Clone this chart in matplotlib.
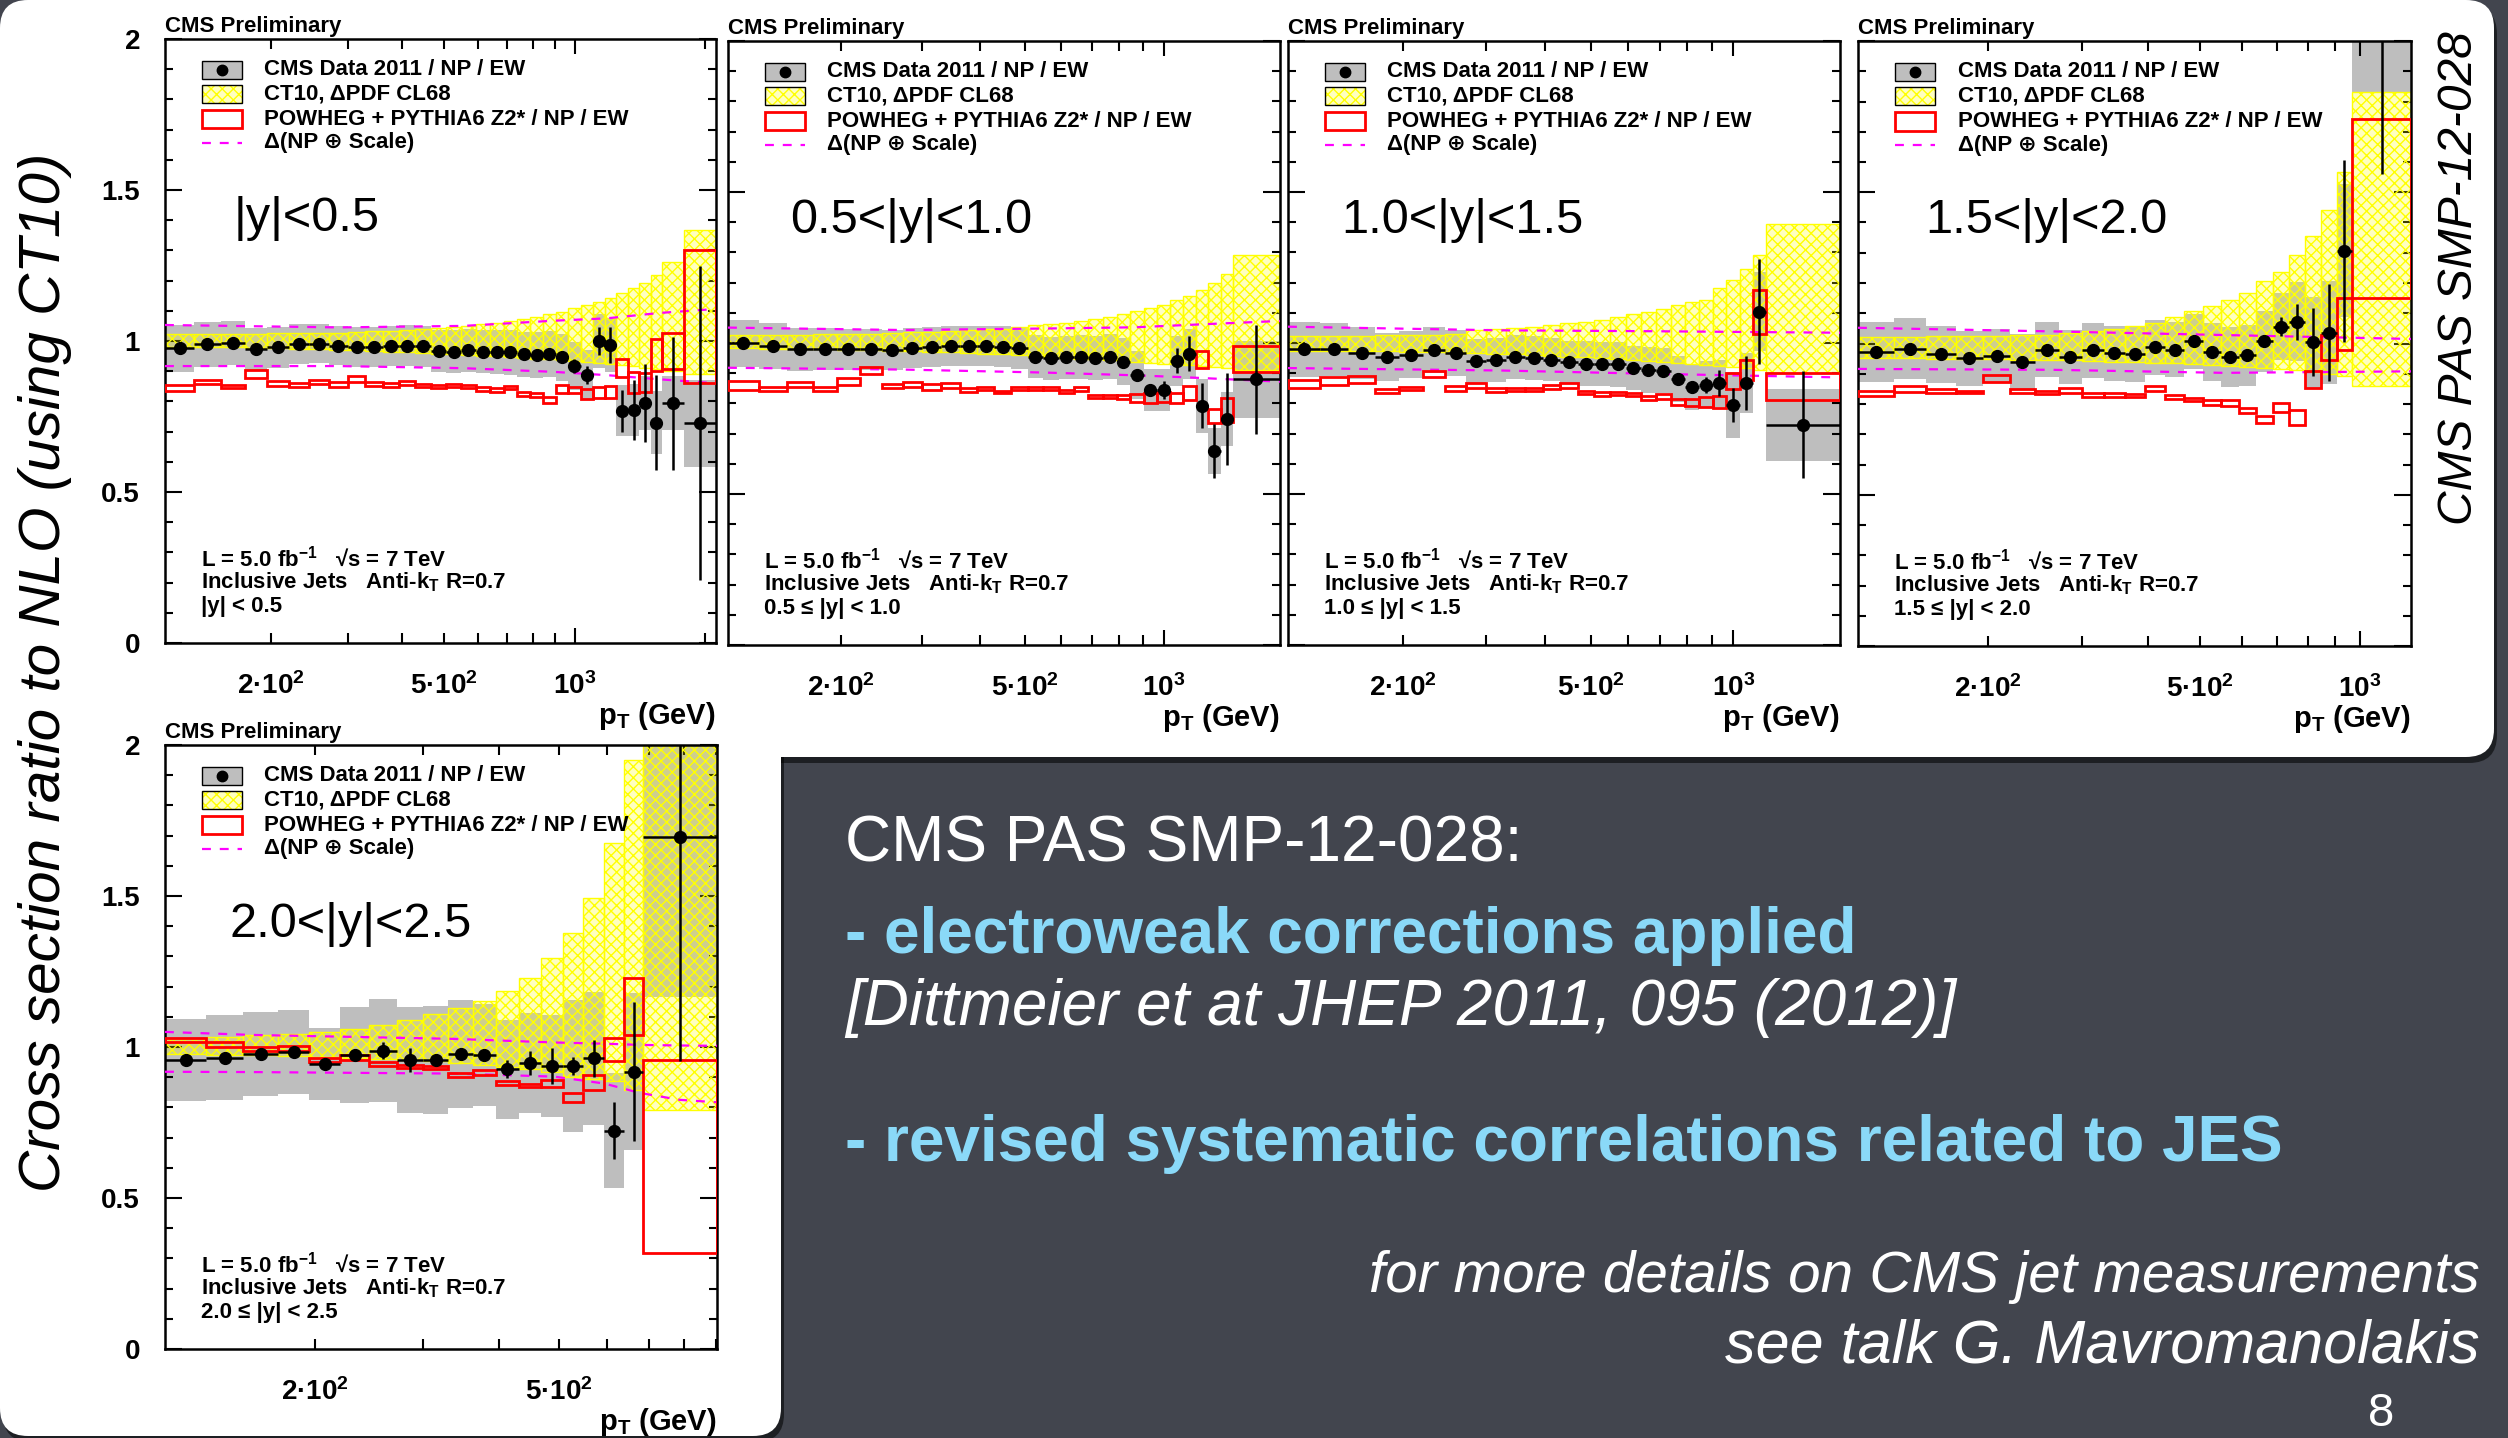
import numpy as np
import matplotlib
matplotlib.use('Agg')
import matplotlib.pyplot as plt
from matplotlib.patches import FancyBboxPatch, Rectangle
from matplotlib.ticker import FixedLocator, FuncFormatter
from matplotlib.transforms import IdentityTransform

plt.rcParams['font.family'] = ['Liberation Sans', 'DejaVu Sans']
plt.rcParams['font.weight'] = 'bold'
plt.rcParams['mathtext.fontset'] = 'custom'
plt.rcParams['mathtext.rm'] = 'Liberation Sans:bold'
plt.rcParams['mathtext.it'] = 'Liberation Sans:bold'
plt.rcParams['mathtext.bf'] = 'Liberation Sans:bold'
plt.rcParams['hatch.linewidth'] = 1.0

# ---- |y| < 0.5
edges1 = [114, 133, 153, 174, 196, 220, 245, 272, 300, 330, 362, 395, 430, 468, 507, 548, 592, 638,
          686, 737, 790, 846, 905, 967, 1032, 1101, 1172, 1248, 1327, 1410, 1497, 1588, 1784, 2116]
data1 = [0.976, 0.989, 0.994, 0.973, 0.980, 0.989, 0.991, 0.985, 0.980, 0.980,
         0.983, 0.985, 0.983, 0.967, 0.965, 0.969, 0.965, 0.963, 0.963, 0.956,
         0.954, 0.957, 0.946, 0.917, 0.887, 1.000, 0.986, 0.769, 0.771, 0.794,
         0.730, 0.794, 0.727]
stat1 = [0.003, 0.003, 0.003, 0.003, 0.003, 0.003, 0.003, 0.004, 0.004, 0.004,
         0.004, 0.005, 0.005, 0.005, 0.006, 0.006, 0.007, 0.008, 0.009, 0.010,
         0.011, 0.013, 0.016, 0.024, 0.031, 0.046, 0.060, 0.070, 0.100, 0.130,
         0.157, 0.220, 0.520]
sys1 = [0.077, 0.075, 0.072, 0.070, 0.068, 0.066, 0.065, 0.065, 0.065, 0.065,
        0.066, 0.067, 0.068, 0.069, 0.070, 0.071, 0.072, 0.073, 0.074, 0.075,
        0.076, 0.077, 0.078, 0.080, 0.082, 0.088, 0.090, 0.085, 0.085, 0.090,
        0.105, 0.090, 0.143]
pdf_hi1 = [1.023, 1.023, 1.024, 1.024, 1.025, 1.026, 1.027, 1.028, 1.030, 1.032,
           1.034, 1.036, 1.039, 1.042, 1.046, 1.050, 1.055, 1.060, 1.066, 1.072,
           1.080, 1.088, 1.097, 1.108, 1.119, 1.130, 1.141, 1.158, 1.174, 1.193,
           1.219, 1.263, 1.367]
pdf_lo1 = [0.981, 0.980, 0.979, 0.978, 0.977, 0.975, 0.973, 0.971, 0.969, 0.967,
           0.965, 0.962, 0.960, 0.958, 0.956, 0.954, 0.951, 0.949, 0.947, 0.945,
           0.942, 0.940, 0.937, 0.934, 0.931, 0.928, 0.925, 0.921, 0.917, 0.912,
           0.906, 0.900, 0.890]
pow_hi1 = [0.854, 0.871, 0.854, 0.904, 0.869, 0.860, 0.871, 0.863, 0.884, 0.863,
           0.860, 0.869, 0.858, 0.854, 0.858, 0.854, 0.847, 0.845, 0.852, 0.830,
           0.829, 0.816, 0.854, 0.849, 0.840, 0.847, 0.852, 0.940, 0.898, 0.895,
           1.007, 1.028, 1.301]
pow_lo1 = [0.835, 0.858, 0.843, 0.876, 0.852, 0.849, 0.858, 0.849, 0.865, 0.851,
           0.849, 0.854, 0.847, 0.845, 0.847, 0.843, 0.836, 0.832, 0.841, 0.819,
           0.816, 0.796, 0.829, 0.829, 0.807, 0.810, 0.810, 0.882, 0.827, 0.832,
           0.902, 0.906, 0.862]
np_pt1 = [114, 286, 555, 891, 1184, 1573, 2116]
np_up1 = [1.053, 1.045, 1.050, 1.067, 1.075, 1.093, 1.106]
np_dn1 = [0.917, 0.917, 0.910, 0.898, 0.887, 0.873, 0.860]

# ---- 0.5 < |y| < 1.0
edges2 = [114, 133, 153, 174, 196, 220, 245, 272, 300, 330, 362, 395, 430, 468, 507, 548, 592, 638,
          686, 737, 790, 846, 905, 967, 1032, 1101, 1172, 1248, 1327, 1410, 1784]
data2 = [0.999, 0.990, 0.979, 0.979, 0.979, 0.979, 0.977, 0.984, 0.988, 0.990,
         0.990, 0.990, 0.988, 0.984, 0.955, 0.949, 0.953, 0.953, 0.949, 0.955,
         0.938, 0.894, 0.844, 0.844, 0.941, 0.964, 0.792, 0.643, 0.748, 0.880]
stat2 = [0.003, 0.003, 0.003, 0.003, 0.003, 0.003, 0.004, 0.004, 0.004, 0.004,
         0.005, 0.005, 0.005, 0.006, 0.006, 0.007, 0.008, 0.009, 0.010, 0.011,
         0.012, 0.015, 0.020, 0.030, 0.041, 0.058, 0.074, 0.090, 0.153, 0.180]
sys2 = [0.077, 0.075, 0.072, 0.070, 0.068, 0.067, 0.066, 0.066, 0.066, 0.066,
        0.067, 0.067, 0.068, 0.069, 0.070, 0.070, 0.071, 0.072, 0.073, 0.075,
        0.077, 0.080, 0.070, 0.070, 0.083, 0.083, 0.090, 0.077, 0.090, 0.128]
pdf_hi2 = [1.026, 1.027, 1.028, 1.029, 1.030, 1.031, 1.033, 1.035, 1.037, 1.039,
           1.042, 1.045, 1.048, 1.052, 1.058, 1.063, 1.067, 1.074, 1.078, 1.085,
           1.096, 1.107, 1.115, 1.126, 1.142, 1.156, 1.175, 1.198, 1.227, 1.291]
pdf_lo2 = [0.982, 0.981, 0.980, 0.979, 0.978, 0.977, 0.975, 0.973, 0.971, 0.969,
           0.967, 0.965, 0.962, 0.959, 0.955, 0.952, 0.950, 0.948, 0.946, 0.944,
           0.941, 0.938, 0.935, 0.932, 0.929, 0.926, 0.923, 0.920, 0.916, 0.910]
pow_hi2 = [0.875, 0.855, 0.872, 0.855, 0.883, 0.922, 0.864, 0.872, 0.864, 0.866,
           0.850, 0.855, 0.842, 0.855, 0.855, 0.855, 0.844, 0.855, 0.828, 0.828,
           0.828, 0.830, 0.836, 0.839, 0.836, 0.859, 0.975, 0.781, 0.819, 0.990]
pow_lo2 = [0.844, 0.842, 0.853, 0.842, 0.861, 0.896, 0.850, 0.855, 0.844, 0.852,
           0.839, 0.844, 0.833, 0.844, 0.844, 0.844, 0.833, 0.841, 0.817, 0.817,
           0.814, 0.806, 0.800, 0.806, 0.800, 0.811, 0.916, 0.736, 0.740, 0.905]
np_pt2 = [114, 273, 556, 867, 1133, 1784]
np_up2 = [1.051, 1.043, 1.048, 1.052, 1.060, 1.073]
np_dn2 = [0.918, 0.912, 0.902, 0.893, 0.886, 0.872]

# ---- 1.0 < |y| < 1.5
edges3 = [114, 133, 153, 174, 196, 220, 245, 272, 300, 330, 362, 395, 430, 468, 507, 548, 592, 638,
          686, 737, 790, 846, 905, 967, 1032, 1101, 1172, 1684]
data3 = [0.979, 0.979, 0.967, 0.953, 0.961, 0.976, 0.967, 0.939, 0.945, 0.953,
         0.951, 0.945, 0.936, 0.932, 0.929, 0.929, 0.917, 0.911, 0.908, 0.881,
         0.854, 0.862, 0.867, 0.795, 0.867, 1.104, 0.729]
stat3 = [0.004, 0.004, 0.004, 0.004, 0.004, 0.004, 0.004, 0.005, 0.005, 0.005,
         0.005, 0.006, 0.006, 0.006, 0.007, 0.007, 0.008, 0.009, 0.012, 0.015,
         0.020, 0.027, 0.043, 0.056, 0.090, 0.175, 0.177]
sys3 = [0.090, 0.088, 0.085, 0.080, 0.078, 0.076, 0.075, 0.074, 0.073, 0.072,
        0.072, 0.072, 0.072, 0.073, 0.073, 0.074, 0.074, 0.075, 0.075, 0.075,
        0.076, 0.077, 0.078, 0.108, 0.100, 0.130, 0.120]
pdf_hi3 = [1.022, 1.023, 1.024, 1.025, 1.026, 1.027, 1.030, 1.042, 1.047, 1.050,
           1.054, 1.061, 1.065, 1.070, 1.076, 1.086, 1.095, 1.104, 1.112, 1.125,
           1.135, 1.143, 1.182, 1.210, 1.245, 1.292, 1.393]
pdf_lo3 = [0.975, 0.974, 0.973, 0.972, 0.971, 0.970, 0.968, 0.966, 0.964, 0.962,
           0.960, 0.958, 0.955, 0.952, 0.949, 0.946, 0.943, 0.940, 0.937, 0.934,
           0.931, 0.928, 0.924, 0.920, 0.916, 0.912, 0.901]
pow_hi3 = [0.878, 0.886, 0.890, 0.847, 0.854, 0.906, 0.859, 0.867, 0.851, 0.851,
           0.851, 0.862, 0.867, 0.842, 0.839, 0.839, 0.836, 0.826, 0.831, 0.815,
           0.815, 0.820, 0.826, 0.901, 0.945, 1.175, 0.901]
pow_lo3 = [0.851, 0.862, 0.867, 0.836, 0.843, 0.886, 0.842, 0.851, 0.839, 0.842,
           0.842, 0.847, 0.851, 0.831, 0.826, 0.829, 0.823, 0.812, 0.815, 0.795,
           0.792, 0.789, 0.784, 0.847, 0.878, 1.029, 0.811]
np_pt3 = [114, 321, 675, 1684]
np_up3 = [1.054, 1.042, 1.039, 1.034]
np_dn3 = [0.917, 0.909, 0.898, 0.886]

# ---- 1.5 < |y| < 2.0
edges4 = [114, 133, 153, 174, 196, 220, 245, 272, 300, 330, 362, 395, 430, 468, 507, 548, 592, 638,
          686, 737, 790, 846, 905, 967, 1248]
data4 = [0.972, 0.983, 0.964, 0.951, 0.959, 0.940, 0.980, 0.956, 0.977, 0.967,
         0.964, 0.987, 0.980, 1.007, 0.972, 0.956, 0.961, 1.007, 1.056, 1.072,
         1.004, 1.036, 1.306, 2.300]
stat4 = [0.004, 0.004, 0.004, 0.004, 0.004, 0.004, 0.005, 0.005, 0.005, 0.005,
         0.006, 0.006, 0.007, 0.008, 0.009, 0.012, 0.015, 0.020, 0.032, 0.060,
         0.112, 0.160, 0.300, 0.740]
sys4 = [0.100, 0.100, 0.095, 0.090, 0.090, 0.090, 0.090, 0.090, 0.090, 0.090,
        0.090, 0.090, 0.090, 0.090, 0.095, 0.100, 0.100, 0.100, 0.110, 0.130,
        0.150, 0.170, 0.220, 0.470]
pdf_hi4 = [1.022, 1.023, 1.024, 1.025, 1.026, 1.027, 1.029, 1.036, 1.041, 1.047,
           1.057, 1.068, 1.089, 1.108, 1.125, 1.144, 1.168, 1.205, 1.237, 1.293,
           1.357, 1.442, 1.566, 1.831]
pdf_lo4 = [0.952, 0.951, 0.950, 0.949, 0.948, 0.947, 0.946, 0.944, 0.942, 0.940,
           0.938, 0.936, 0.934, 0.931, 0.928, 0.925, 0.922, 0.919, 0.915, 0.911,
           0.906, 0.900, 0.892, 0.860]
pow_hi4 = [0.844, 0.860, 0.849, 0.844, 0.897, 0.849, 0.844, 0.852, 0.836, 0.836,
           0.833, 0.860, 0.831, 0.820, 0.812, 0.812, 0.788, 0.759, 0.804, 0.780,
           0.908, 1.028, 1.149, 1.742]
pow_lo4 = [0.828, 0.839, 0.836, 0.836, 0.873, 0.836, 0.833, 0.836, 0.824, 0.824,
           0.823, 0.844, 0.816, 0.810, 0.796, 0.792, 0.771, 0.736, 0.772, 0.731,
           0.852, 0.945, 0.980, 1.149]
np_pt4 = [114, 265, 555, 1248]
np_up4 = [1.052, 1.040, 1.028, 1.015]
np_dn4 = [0.916, 0.913, 0.903, 0.908]

# ---- 2.0 < |y| < 2.5
edges5 = [114, 133, 153, 174, 196, 220, 245, 272, 300, 330, 362, 395, 430, 468, 507, 548, 592, 638,
          686, 905]
data5 = [0.957, 0.965, 0.977, 0.983, 0.944, 0.973, 0.988, 0.957, 0.957, 0.977,
         0.973, 0.926, 0.946, 0.937, 0.937, 0.962, 0.723, 0.918, 1.694]
stat5 = [0.010, 0.012, 0.013, 0.010, 0.010, 0.014, 0.027, 0.040, 0.015, 0.020,
         0.020, 0.030, 0.040, 0.060, 0.030, 0.060, 0.094, 0.230, 0.740]
sys5 = [0.137, 0.140, 0.140, 0.140, 0.120, 0.160, 0.170, 0.175, 0.180, 0.180,
        0.170, 0.165, 0.165, 0.170, 0.220, 0.220, 0.190, 0.260, 0.530]
pdf_hi5 = [1.028, 1.034, 1.040, 1.043, 1.050, 1.061, 1.074, 1.089, 1.108, 1.128,
           1.152, 1.186, 1.230, 1.295, 1.378, 1.495, 1.674, 1.950, 2.300]
pdf_lo5 = [0.977, 0.975, 0.973, 0.971, 0.968, 0.965, 0.961, 0.957, 0.952, 0.947,
           0.941, 0.934, 0.926, 0.918, 0.902, 0.895, 0.887, 0.856, 0.793]
pow_hi5 = [1.030, 1.015, 1.001, 1.004, 0.962, 0.973, 0.949, 0.941, 0.937, 0.913,
           0.923, 0.887, 0.879, 0.890, 0.848, 0.907, 1.030, 1.230, 0.957]
pow_lo5 = [1.015, 1.001, 0.988, 0.988, 0.949, 0.957, 0.937, 0.929, 0.926, 0.902,
           0.907, 0.874, 0.867, 0.868, 0.817, 0.856, 0.952, 1.040, 0.318]
np_pt5 = [114, 158, 336, 491, 593, 677, 787, 905]
np_up5 = [1.050, 1.040, 1.027, 1.015, 1.011, 1.007, 1.005, 1.004]
np_dn5 = [0.918, 0.917, 0.912, 0.902, 0.879, 0.848, 0.825, 0.817]

rap_titles = ['|y|<0.5', '0.5<|y|<1.0', '1.0<|y|<1.5', '1.5<|y|<2.0', '2.0<|y|<2.5']
rap_ranges = ['|y| < 0.5', '0.5 \u2264 |y| < 1.0', '1.0 \u2264 |y| < 1.5',
              '1.5 \u2264 |y| < 2.0', '2.0 \u2264 |y| < 2.5']
legend_labels = ['CMS Data 2011 / NP / EW', 'CT10, \u0394PDF CL68',
                 'POWHEG + PYTHIA6 Z2* / NP / EW', '\u0394(NP \u2295 Scale)']

GREY = '#bebebe'
YEL = '#ffff00'
YEL_FILL = (1, 1, 0, 0.25)
MAG = '#ff00ff'

W, H = 2508, 1438
fig = plt.figure(figsize=(W / 100, H / 100), dpi=100)
fig.patch.set_facecolor('#42454e')

# white slide panels (pixel coordinates, origin bottom-left)
for dx, dy, col, a in [(3, -6, 'black', 0.55), (0, 0, 'white', 1.0)]:
    for (x0, y0, w, h) in [(0, 681, 2494, 757), (0, 2, 781, 760)]:
        p = FancyBboxPatch((x0 + dx, y0 + dy), w, h, boxstyle='round,pad=0,rounding_size=28',
                           transform=IdentityTransform(), facecolor=col, edgecolor='none',
                           alpha=a, zorder=-10)
        fig.add_artist(p)


def add_axes_px(x0, y0, x1, y1):
    return fig.add_axes([x0 / W, 1 - y1 / H, (x1 - x0) / W, (y1 - y0) / H])


def draw_legend(ax):
    tr = ax.transAxes
    rows = [0.949, 0.909, 0.867, 0.828]
    x0, x1, hh = 0.067, 0.14, 0.015
    ax.add_patch(Rectangle((x0, rows[0] - hh), x1 - x0, 2 * hh, transform=tr, facecolor=GREY,
                           edgecolor='black', lw=1, zorder=6))
    ax.plot([(x0 + x1) / 2], [rows[0]], 'o', color='black', ms=7.5, transform=tr, zorder=7)
    ax.add_patch(Rectangle((x0, rows[1] - hh), x1 - x0, 2 * hh, transform=tr, facecolor=YEL_FILL,
                           edgecolor=YEL, hatch='xxx', lw=0, zorder=6))
    ax.add_patch(Rectangle((x0, rows[1] - hh), x1 - x0, 2 * hh, transform=tr, fill=False,
                           edgecolor='black', lw=1, zorder=7))
    ax.add_patch(Rectangle((x0, rows[2] - hh), x1 - x0, 2 * hh, transform=tr, facecolor='white',
                           edgecolor='red', lw=2, zorder=6))
    ax.plot([x0, x1], [rows[3], rows[3]], color=MAG, lw=1.6, dashes=(4, 4), transform=tr, zorder=6)
    for r, t in zip(rows, legend_labels):
        ax.text(0.18, r, t, transform=tr, fontsize=16, va='center', ha='left')


def draw_panel(ax, edges, data, stat, sys, pdf_lo, pdf_hi, pow_lo, pow_hi,
               np_pt, np_up, np_dn, title, title_x, rng, ylabels):
    edges = np.array(edges, dtype=float)
    left, right = edges[:-1], edges[1:]
    width = right - left
    centre = np.sqrt(left * right)
    data = np.array(data)
    sys = np.array(sys)
    lo, hi = np.array(pdf_lo), np.array(pdf_hi)
    plo, phi = np.array(pow_lo), np.array(pow_hi)

    ax.set_xscale('log')
    ax.bar(left, 2 * sys, bottom=data - sys, width=width, align='edge', color=GREY,
           linewidth=0, zorder=1)
    ax.bar(left, hi - lo, bottom=lo, width=width, align='edge', facecolor=YEL_FILL,
           edgecolor=YEL, hatch='xxx', linewidth=1.0, zorder=2)
    ax.plot(np_pt, np_up, color=MAG, lw=1.6, dashes=(4, 4), zorder=3)
    ax.plot(np_pt, np_dn, color=MAG, lw=1.6, dashes=(4, 4), zorder=3)
    ax.bar(left, phi - plo, bottom=plo, width=width, align='edge', fill=False,
           edgecolor='red', linewidth=2.0, zorder=4)
    ax.errorbar(centre, data, yerr=stat, xerr=[centre - left, right - centre], fmt='o',
                color='black', ms=8.5, elinewidth=1.8, capsize=0, zorder=5)

    ax.set_xlim(edges[0], edges[-1])
    ax.set_ylim(0, 2)
    ax.yaxis.set_major_locator(FixedLocator([0, 0.5, 1, 1.5, 2]))
    ax.yaxis.set_minor_locator(FixedLocator(np.arange(0, 2.01, 0.1)))
    ax.yaxis.set_major_formatter(FuncFormatter(lambda v, p: '%g' % v))
    ax.xaxis.set_major_locator(FixedLocator([1000]))
    ax.xaxis.set_major_formatter(FuncFormatter(lambda v, p: '10$^{3}$'))
    ax.xaxis.set_minor_locator(FixedLocator([200, 300, 400, 500, 600, 700, 800, 900, 2000]))
    minor_lab = {200: '2\u00b710$^{2}$', 500: '5\u00b710$^{2}$'}
    ax.xaxis.set_minor_formatter(FuncFormatter(lambda v, p: minor_lab.get(int(round(v)), '')))

    ax.tick_params(which='both', direction='in', top=True, right=True, width=1.5,
                   labelsize=20, colors='black')
    ax.tick_params(axis='y', which='major', length=12, pad=18)
    ax.tick_params(axis='y', which='minor', length=6, pad=18)
    ax.tick_params(axis='x', which='major', length=11, pad=21)
    ax.tick_params(axis='x', which='minor', length=7, pad=21)
    if not ylabels:
        ax.tick_params(axis='y', which='both', labelleft=False)
    for s in ax.spines.values():
        s.set_linewidth(1.8)

    ax.text(1.0, -0.121, 'p$_T$ (GeV)', transform=ax.transAxes, ha='right', va='center',
            fontsize=21)
    ax.text(0.0, 1.021, 'CMS Preliminary', transform=ax.transAxes, ha='left', va='center',
            fontsize=16)
    ax.text(title_x, 0.703, title, transform=ax.transAxes, ha='left', va='center',
            fontsize=35, fontweight='normal')
    info = ['L = 5.0 fb$^{-1}$   \u221as = 7 TeV', 'Inclusive Jets   Anti-k$_T$ R=0.7', rng]
    for yy, t in zip([0.139, 0.100, 0.060], info):
        ax.text(0.065, yy, t, transform=ax.transAxes, ha='left', va='center', fontsize=16)
    draw_legend(ax)


ax1 = add_axes_px(165, 39, 716, 643)
draw_panel(ax1, edges1, data1, stat1, sys1, pdf_lo1, pdf_hi1, pow_lo1, pow_hi1,
           np_pt1, np_up1, np_dn1, rap_titles[0], 0.125, rap_ranges[0], True)
ax2 = add_axes_px(728, 41, 1280, 645)
draw_panel(ax2, edges2, data2, stat2, sys2, pdf_lo2, pdf_hi2, pow_lo2, pow_hi2,
           np_pt2, np_up2, np_dn2, rap_titles[1], 0.112, rap_ranges[1], False)
ax3 = add_axes_px(1288, 41, 1840, 645)
draw_panel(ax3, edges3, data3, stat3, sys3, pdf_lo3, pdf_hi3, pow_lo3, pow_hi3,
           np_pt3, np_up3, np_dn3, rap_titles[2], 0.096, rap_ranges[2], False)
ax4 = add_axes_px(1858, 41, 2411, 646)
draw_panel(ax4, edges4, data4, stat4, sys4, pdf_lo4, pdf_hi4, pow_lo4, pow_hi4,
           np_pt4, np_up4, np_dn4, rap_titles[3], 0.121, rap_ranges[3], False)
ax5 = add_axes_px(165, 745, 717, 1349)
draw_panel(ax5, edges5, data5, stat5, sys5, pdf_lo5, pdf_hi5, pow_lo5, pow_hi5,
           np_pt5, np_up5, np_dn5, rap_titles[4], 0.116, rap_ranges[4], True)

# slide texts
fig.text(45 / W, 1 - 672 / H, 'Cross section ratio to NLO (using CT10)', rotation=90,
         ha='center', va='center', fontsize=42, style='italic', fontweight='normal', color='black')
fig.text(2459 / W, 1 - 278 / H, 'CMS PAS SMP-12-028', rotation=90, ha='center', va='center',
         fontsize=34.5, style='italic', fontweight='normal', color='black')

BLUE = '#8ad9f8'
fig.text(845 / W, 1 - 845 / H, 'CMS PAS SMP-12-028:', ha='left', va='center', fontsize=46,
         fontweight='normal', color='white')
fig.text(845 / W, 1 - 936 / H, '- electroweak corrections applied', ha='left', va='center',
         fontsize=46, fontweight='bold', color=BLUE)
fig.text(845 / W, 1 - 1008 / H, '[Dittmeier et at JHEP 2011, 095 (2012)]', ha='left',
         va='center', fontsize=46, fontweight='normal', style='italic', color='white')
fig.text(845 / W, 1 - 1144 / H, '- revised systematic correlations related to JES', ha='left',
         va='center', fontsize=46, fontweight='bold', color=BLUE)
fig.text(2480 / W, 1 - 1277 / H, 'for more details on CMS jet measurements', ha='right',
         va='center', fontsize=42, fontweight='normal', style='italic', color='white')
fig.text(2480 / W, 1 - 1347 / H, 'see talk G. Mavromanolakis', ha='right', va='center',
         fontsize=44, fontweight='normal', style='italic', color='white')
fig.text(2381 / W, 1 - 1414 / H, '8', ha='center', va='center', fontsize=34,
         fontweight='normal', color='white')

fig.savefig('out.png', dpi=100)
